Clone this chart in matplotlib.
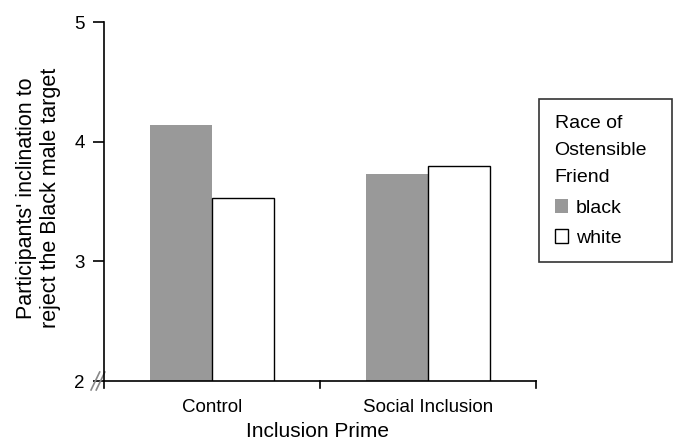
import matplotlib
matplotlib.use("Agg")
import matplotlib.pyplot as plt
import numpy as np

plt.rcParams['font.family'] = ['Liberation Sans', 'DejaVu Sans']

categories = ["Control", "Social Inclusion"]
series_names = ["black", "white"]
black_vals = [4.14, 3.73]
white_vals = [3.53, 3.80]
yticks = [2, 3, 4, 5]

fig = plt.figure(figsize=(6.73, 4.41), dpi=100)
ax = fig.add_axes([104/673, 1-381/441, (536-104)/673, (381-22)/441])

x = np.arange(len(categories))
w = 0.287
b1 = ax.bar(x - w/2, black_vals, w, color="#999999", edgecolor="#999999", linewidth=0, label="black")
b2 = ax.bar(x + w/2, white_vals, w, color="white", edgecolor="black", linewidth=1.0, label="white")

ax.set_ylim(2, 5)
ax.set_xlim(-0.5, 1.5)
ax.set_yticks(yticks)
ax.set_yticklabels([str(t) for t in yticks], fontsize=13.5)
ax.set_xticks(x)
ax.set_xticklabels(categories, fontsize=13.5)
ax.tick_params(axis='x', length=0, pad=13)
ax.tick_params(axis='y', direction='out', length=8, width=1.2, pad=6)
for xt in [-0.5, 0.5, 1.5]:
    ax.plot([xt, xt], [0, -0.02], transform=ax.get_xaxis_transform(), color="black", lw=1.2, clip_on=False)
ax.spines['top'].set_visible(False)
ax.spines['right'].set_visible(False)
ax.spines['left'].set_linewidth(1.2)
ax.spines['bottom'].set_linewidth(1.2)

# axis break marks
for dx in [-0.012, 0.0]:
    ax.plot([-0.018 + dx, 0.002 + dx], [-0.025, 0.025], transform=ax.transAxes, color="#888888", lw=1.2, clip_on=False)

ax.set_ylabel("Participants' inclination to\nreject the Black male target", fontsize=15.5)
ax.yaxis.set_label_coords(-0.10, 0.51)
ax.set_xlabel("Inclusion Prime", fontsize=15)
ax.xaxis.set_label_coords(0.495, -0.115)

leg = fig.legend(handles=[b1, b2], labels=series_names, title="Race of\nOstensible\nFriend",
                 loc="upper left", bbox_to_anchor=(539/673, 1-99/441 - 0.1, 133/673, 0.1), mode="expand",
                 fontsize=14, title_fontsize=14,
                 alignment="left", frameon=True, fancybox=False, handlelength=0.7, handleheight=0.7,
                 handletextpad=0.4, borderpad=0.8, labelspacing=0.65, borderaxespad=0)
leg.get_frame().set_edgecolor("black")
leg.get_frame().set_linewidth(1.2)
leg.get_title().set_linespacing(1.8)

fig.savefig("out.png", dpi=100)
